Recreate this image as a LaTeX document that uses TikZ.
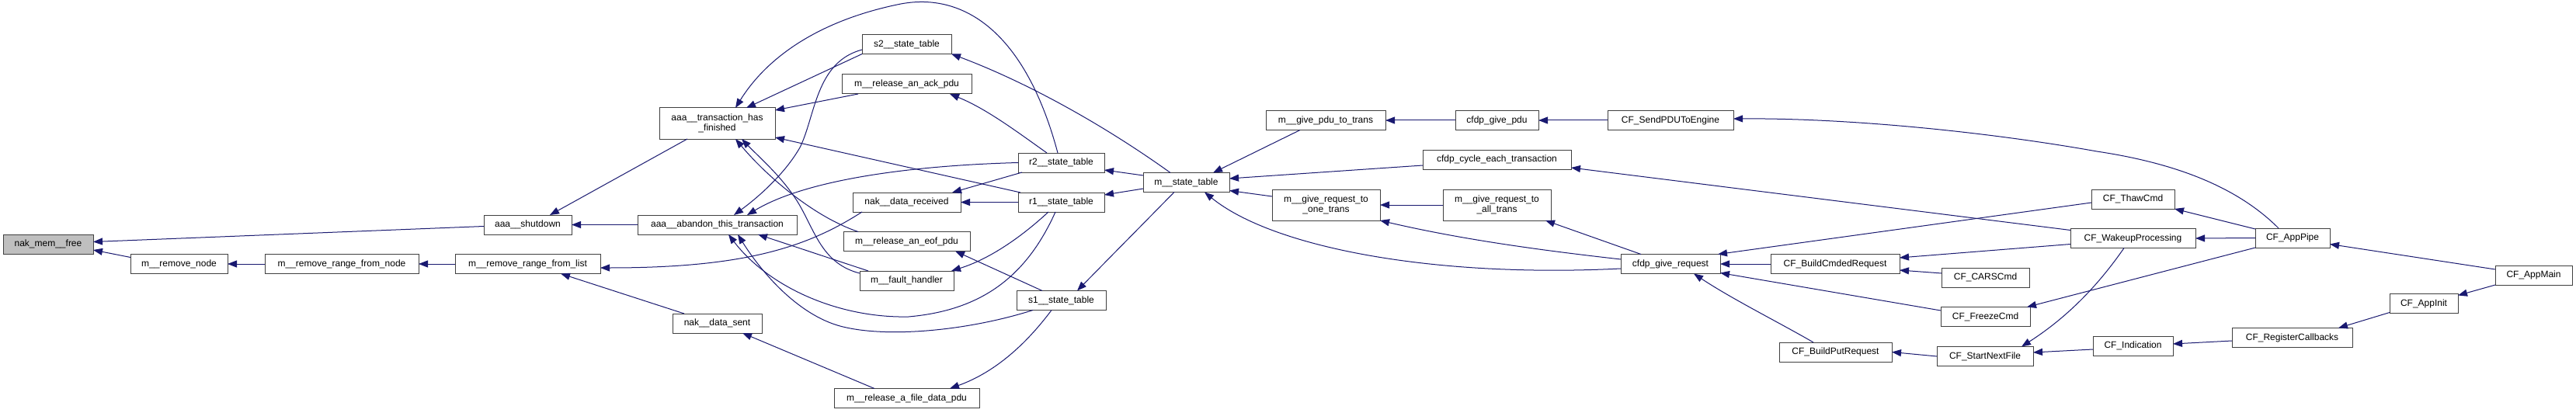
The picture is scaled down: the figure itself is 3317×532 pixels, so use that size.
\documentclass[tikz,border=0pt]{standalone}
\usepackage{fontspec}
\setmainfont{Liberation Sans}
\usetikzlibrary{calc,arrows.meta}
\definecolor{edgeblue}{HTML}{191970}
\definecolor{boxline}{HTML}{404040}
\definecolor{hilite}{HTML}{BFBFBF}
\tikzset{
  fn/.style={draw=boxline, line width=1pt, fill=white, inner sep=0pt, outer sep=0pt,
    minimum height=25pt, align=center, font=\fontsize{12}{13.5}\selectfont},
  fn2/.style={fn, minimum height=40pt},
  edge/.style={draw=edgeblue, line width=1pt, -{Triangle[length=12pt,width=9pt]}}
}
\begin{document}
\begin{tikzpicture}[x=1pt,y=-1pt]
\useasboundingbox (0,0) rectangle (3317,532);
\fill[white] (0,0) rectangle (3317,532);

% nodes
\node[fn, fill=hilite, minimum width=116pt] (nakfree) at (62,314.5) {nak\_mem\_\_free};
\node[fn, minimum width=125pt] (rmnode) at (230.5,340) {m\_\_remove\_node};
\node[fn, minimum width=198pt] (rmrnode) at (440,340) {m\_\_remove\_range\_from\_node};
\node[fn, minimum width=187pt] (rmrlist) at (679.5,340) {m\_\_remove\_range\_from\_list};
\node[fn, minimum width=113pt] (shutdown) at (679.5,289.5) {aaa\_\_shutdown};
\node[fn2, minimum width=149pt] (finished) at (923.5,159) {aaa\_\_transaction\_has\\\_finished};
\node[fn, minimum width=205pt] (abandon) at (923.5,289.5) {aaa\_\_abandon\_this\_transaction};
\node[fn, minimum width=115pt] (datasent) at (923.5,416.5) {nak\_\_data\_sent};
\node[fn, minimum width=115pt] (s2) at (1167.5,57) {s2\_\_state\_table};
\node[fn, minimum width=167pt] (ackpdu) at (1167.5,108.5) {m\_\_release\_an\_ack\_pdu};
\node[fn, minimum width=139pt] (datarecv) at (1167.5,260.5) {nak\_\_data\_received};
\node[fn, minimum width=163pt] (eofpdu) at (1167.5,311) {m\_\_release\_an\_eof\_pdu};
\node[fn, minimum width=121pt] (fault) at (1167.5,361.5) {m\_\_fault\_handler};
\node[fn, minimum width=187pt] (filedata) at (1167.5,513) {m\_\_release\_a\_file\_data\_pdu};
\node[fn, minimum width=111pt] (r2) at (1366.5,209.5) {r2\_\_state\_table};
\node[fn, minimum width=111pt] (r1) at (1366.5,260.5) {r1\_\_state\_table};
\node[fn, minimum width=115pt] (s1) at (1366.5,387) {s1\_\_state\_table};
\node[fn, minimum width=111pt] (mstate) at (1527.5,235) {m\_\_state\_table};
\node[fn, minimum width=154pt] (givepdutrans) at (1707,155) {m\_\_give\_pdu\_to\_trans};
\node[fn, minimum width=107pt] (givepdu) at (1927.5,155) {cfdp\_give\_pdu};
\node[fn, minimum width=162pt] (sendpdu) at (2151,155) {CF\_SendPDUToEngine};
\node[fn, minimum width=191pt] (cycle) at (1927.5,205.5) {cfdp\_cycle\_each\_transaction};
\node[fn2, minimum width=139pt] (onetrans) at (1707.5,264) {m\_\_give\_request\_to\\\_one\_trans};
\node[fn2, minimum width=139pt] (alltrans) at (1927.5,264) {m\_\_give\_request\_to\\\_all\_trans};
\node[fn, minimum width=128pt] (givereq) at (2151,340) {cfdp\_give\_request};
\node[fn, minimum width=166pt] (cmded) at (2363,340) {CF\_BuildCmdedRequest};
\node[fn, minimum width=113pt] (cars) at (2556.5,357.5) {CF\_CARSCmd};
\node[fn, minimum width=115pt] (freeze) at (2556.5,408) {CF\_FreezeCmd};
\node[fn, minimum width=145pt] (buildput) at (2363.5,453.5) {CF\_BuildPutRequest};
\node[fn, minimum width=124pt] (startnext) at (2556,459) {CF\_StartNextFile};
\node[fn, minimum width=107pt] (thaw) at (2746.5,256.5) {CF\_ThawCmd};
\node[fn, minimum width=161pt] (wakeup) at (2746.5,307) {CF\_WakeupProcessing};
\node[fn, minimum width=103pt] (indication) at (2746.5,445.5) {CF\_Indication};
\node[fn, minimum width=96pt] (apppipe) at (2952,306.5) {CF\_AppPipe};
\node[fn, minimum width=99pt] (appmain) at (3262.5,354.5) {CF\_AppMain};
\node[fn, minimum width=88pt] (appinit) at (3121,391) {CF\_AppInit};
\node[fn, minimum width=155pt] (regcb) at (2951.5,435) {CF\_RegisterCallbacks};

% edges (caller -> callee, arrow at callee)
\draw[edge] ($(shutdown.west)+(0,2)$) -- ($(nakfree.east)+(0,-3)$);
\draw[edge] ($(rmnode.north west)+(0,4)$) -- ($(nakfree.south east)+(0,-5)$);
\draw[edge] (rmrnode.west) -- (rmnode.east);
\draw[edge] (rmrlist.west) -- (rmrnode.east);
\draw[edge] ($(finished.south west)+(36,0)$) -- ($(shutdown.north)+(28.5,0)$);
\draw[edge] (abandon.west) -- (shutdown.east);
\draw[edge] ($(datarecv.south west)+(12,0)$) .. controls (1040,318) and (960,345) .. ($(rmrlist.east)+(0,5)$);
\draw[edge] ($(datasent.north west)+(15,0)$) -- ($(rmrlist.south)+(42.5,0)$);
\draw[edge] ($(filedata.north west)+(52,0)$) -- ($(datasent.south)+(32.5,0)$);
\draw[edge] (s2.south west) -- ($(finished.north)+(37.5,0)$);
\draw[edge] ($(s2.west)+(0,7)$) .. controls (1050,80) and (1050,150) .. (1030,190) .. controls (1010,225) and (975,255) .. ($(abandon.north)+(21.5,0)$);
\draw[edge] ($(r2.north)+(-4.5,0)$) .. controls (1320,40) and (1240,-10) .. (1160,5) .. controls (1060,25) and (990,70) .. ($(finished.north)+(23.5,0)$);
\draw[edge] ($(ackpdu.south west)+(21,0)$) -- ($(finished.north east)+(0,3)$);
\draw[edge] ($(r1.north west)+(3,0)$) -- ($(finished.south east)+(0,-2)$);
\draw[edge] ($(eofpdu.north west)+(19,0)$) .. controls (1050,280) and (990,230) .. ($(finished.south)+(23.5,0)$);
\draw[edge] ($(fault.west)+(0,-9.5)$) .. controls (1060,340) and (1050,300) .. (1030,265) .. controls (1010,230) and (975,200) .. ($(finished.south)+(31.5,0)$);
\draw[edge] (r2.west) .. controls (1180,213) and (1040,230) .. ($(abandon.north)+(38.5,0)$);
\draw[edge] ($(fault.north west)+(11,0)$) -- ($(abandon.south)+(52.5,0)$);
\draw[edge] ($(r1.south)+(-7.5,0)$) .. controls (1320,360) and (1260,400) .. (1170,408) .. controls (1080,410) and (990,370) .. ($(abandon.south)+(14.5,0)$);
\draw[edge] ($(s1.south west)+(21,0)$) .. controls (1250,425) and (1150,435) .. (1090,422) .. controls (1030,410) and (980,350) .. ($(abandon.south)+(26.5,0)$);
\draw[edge] ($(mstate.north)+(-20.5,0)$) .. controls (1420,160) and (1320,105) .. (s2.south east);
\draw[edge] ($(r2.north)+(-18.5,0)$) .. controls (1310,170) and (1270,140) .. ($(ackpdu.south)+(55.5,0)$);
\draw[edge] ($(r2.south west)+(5,0)$) -- ($(datarecv.north)+(58.5,0)$);
\draw[edge] (r1.west) -- (datarecv.east);
\draw[edge] ($(r1.south)+(-16.5,0)$) .. controls (1310,310) and (1270,335) .. ($(fault.north east)+(-3,0)$);
\draw[edge] ($(s1.north)+(-24.5,0)$) -- ($(eofpdu.south)+(62.5,0)$);
\draw[edge] ($(s1.south)+(-12.5,0)$) .. controls (1320,445) and (1280,480) .. ($(filedata.north)+(55.5,0)$);
\draw[edge] ($(mstate.west)+(0,-9)$) -- ($(r2.east)+(0,9.5)$);
\draw[edge] ($(mstate.west)+(0,8)$) -- ($(r1.east)+(0,-9.5)$);
\draw[edge] ($(mstate.south)+(-15.5,0)$) -- ($(s1.north)+(20.5,0)$);
\draw[edge] ($(givepdutrans.south west)+(44,0)$) -- ($(mstate.north)+(34.5,0)$);
\draw[edge] ($(cycle.west)+(0,7.5)$) -- ($(mstate.east)+(0,-5)$);
\draw[edge] ($(onetrans.west)+(0,-11)$) -- ($(mstate.south east)+(0,-2)$);
\draw[edge] ($(givereq.west)+(0,6)$) .. controls (1850,358) and (1640,320) .. ($(mstate.south)+(23.5,0)$);
\draw[edge] (givepdu.west) -- (givepdutrans.east);
\draw[edge] (sendpdu.west) -- (givepdu.east);
\draw[edge] ($(wakeup.north west)+(0,2)$) -- ($(cycle.south east)+(0,-2)$);
\draw[edge] (alltrans.west) -- (onetrans.east);
\draw[edge] ($(givereq.west)+(0,-6)$) .. controls (1980,322) and (1880,308) .. (onetrans.south east);
\draw[edge] ($(givereq.north west)+(26,0)$) -- ($(alltrans.south east)+(-7,0)$);
\draw[edge] ($(apppipe.north)+(-18,0)$) .. controls (2880,240) and (2800,210) .. (2700,195) .. controls (2560,170) and (2380,152) .. ($(sendpdu.east)+(0,-2)$);
\draw[edge] ($(thaw.west)+(0,4.5)$) -- ($(givereq.north east)+(-3,0)$);
\draw[edge] (cmded.west) -- (givereq.east);
\draw[edge] ($(freeze.west)+(0,-8)$) -- ($(givereq.south east)+(0,-1)$);
\draw[edge] ($(buildput.north)+(-28.5,0)$) .. controls (2290,415) and (2230,385) .. ($(givereq.south)+(30,0)$);
\draw[edge] ($(wakeup.south west)+(0,-5)$) -- ($(cmded.east)+(0,-8)$);
\draw[edge] ($(cars.west)+(0,-5.5)$) -- ($(cmded.east)+(0,8)$);
\draw[edge] (apppipe.south west) -- ($(freeze.north east)+(-4,0)$);
\draw[edge] ($(wakeup.south)+(-11.5,0)$) .. controls (2700,370) and (2660,410) .. ($(startnext.north)+(47,0)$);
\draw[edge] (startnext.west) -- (buildput.east);
\draw[edge] ($(indication.west)+(0,4.5)$) -- ($(startnext.east)+(0,-5)$);
\draw[edge] ($(apppipe.north west)+(0,1)$) -- (thaw.south east);
\draw[edge] (apppipe.west) -- (wakeup.east);
\draw[edge] ($(appmain.west)+(0,-7.5)$) -- ($(apppipe.east)+(0,8)$);
\draw[edge] ($(regcb.west)+(0,4)$) -- ($(indication.east)+(0,-2.5)$);
\draw[edge] ($(appinit.south west)+(0,-1)$) -- ($(regcb.north east)+(-18,0)$);
\draw[edge] (appmain.south west) -- ($(appinit.north east)+(0,2)$);
\end{tikzpicture}
\end{document}
